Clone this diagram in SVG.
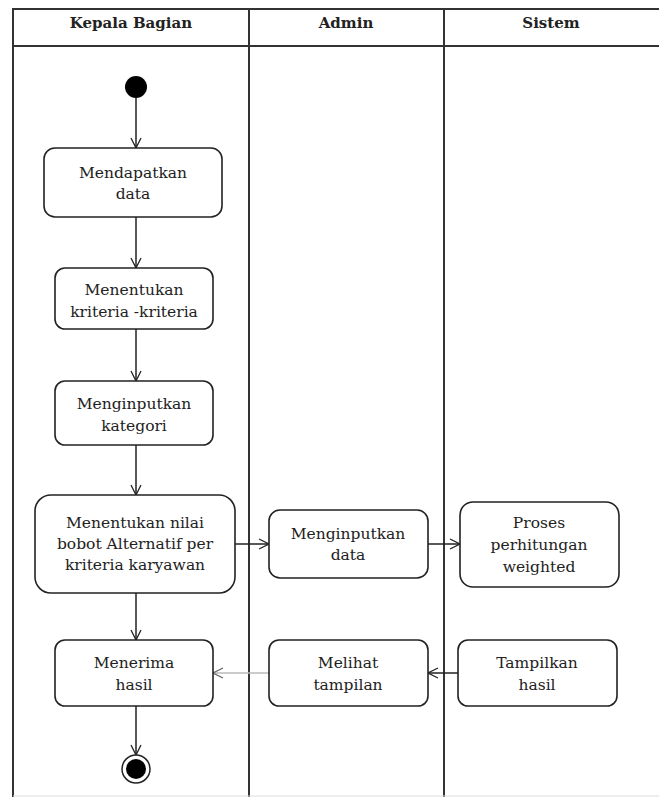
<svg xmlns="http://www.w3.org/2000/svg" width="659" height="797" viewBox="0 0 659 797">
<style>
.lane{stroke:#333;stroke-width:2;fill:none}
.node rect{fill:#fff;stroke:#222;stroke-width:1.6}
.node text{font-size:15.5px;fill:#222;text-anchor:middle}
.hdr{font-weight:bold;font-size:15px;fill:#222;text-anchor:middle}
.conn{stroke:#222;stroke-width:1.5;fill:none;marker-end:url(#arr)}
</style>
<defs>
<marker id="arr" viewBox="0 0 12 12" refX="11" refY="6" markerWidth="12" markerHeight="12" markerUnits="userSpaceOnUse" orient="auto">
<path d="M1,1 L11,6 L1,11" fill="none" stroke="#222" stroke-width="1.3"/>
</marker>
<marker id="arrg" viewBox="0 0 12 12" refX="11" refY="6" markerWidth="12" markerHeight="12" markerUnits="userSpaceOnUse" orient="auto">
<path d="M1,1 L11,6 L1,11" fill="none" stroke="#666" stroke-width="1.3"/>
</marker>
</defs>
<rect width="659" height="797" fill="#fff"/>
<g font-family="'DejaVu Serif', 'Liberation Serif', serif">
<g id="lanes">
<path class="lane" d="M13,797 L13,9 L659,9"/>
<path class="lane" d="M13,46 L659,46"/>
<path class="lane" d="M249,9 L249,797"/>
<path class="lane" d="M444,9 L444,797"/>
<path d="M13,796 L659,796" stroke="#ddd" stroke-width="1"/>
<text class="hdr" x="131" y="28">Kepala Bagian</text>
<text class="hdr" x="346" y="28">Admin</text>
<text class="hdr" x="551" y="28">Sistem</text>
</g>
<g id="connectors">
<path class="conn" d="M136,98 L136,148"/>
<path class="conn" d="M136,217 L136,268"/>
<path class="conn" d="M136,329 L136,381"/>
<path class="conn" d="M136,445 L136,495"/>
<path class="conn" d="M136,593 L136,640"/>
<path class="conn" d="M136,706 L136,755"/>
<path class="conn" d="M235,544 L269,544"/>
<path class="conn" d="M428,544 L460,544"/>
<path class="conn" d="M458,673 L428,673"/>
<path d="M269,673 L213,673" stroke="#bbb" stroke-width="1.5" fill="none" marker-end="url(#arrg)"/>
</g>
<g id="start"><circle cx="136" cy="87" r="11" fill="#000"/></g>
<g id="n1" class="node"><rect x="44" y="148" width="178" height="69" rx="11"/><text x="133" y="178">Mendapatkan</text><text x="133" y="199">data</text></g>
<g id="n2" class="node"><rect x="55" y="268" width="158" height="61" rx="10"/><text x="134" y="295">Menentukan</text><text x="134" y="317">kriteria -kriteria</text></g>
<g id="n3" class="node"><rect x="55" y="381" width="158" height="64" rx="10"/><text x="134" y="409">Menginputkan</text><text x="134" y="431">kategori</text></g>
<g id="n4" class="node"><rect x="35" y="495" width="200" height="98" rx="16"/><text x="135" y="528">Menentukan nilai</text><text x="135" y="549">bobot Alternatif per</text><text x="135" y="570">kriteria karyawan</text></g>
<g id="n5" class="node"><rect x="269" y="510" width="159" height="68" rx="11"/><text x="348" y="539">Menginputkan</text><text x="348" y="560">data</text></g>
<g id="n6" class="node"><rect x="460" y="502" width="159" height="85" rx="13"/><text x="539" y="528">Proses</text><text x="539" y="550">perhitungan</text><text x="539" y="572">weighted</text></g>
<g id="n7" class="node"><rect x="55" y="640" width="158" height="66" rx="10"/><text x="134" y="668">Menerima</text><text x="134" y="690">hasil</text></g>
<g id="n8" class="node"><rect x="269" y="640" width="159" height="66" rx="10"/><text x="348" y="668">Melihat</text><text x="348" y="690">tampilan</text></g>
<g id="n9" class="node"><rect x="458" y="640" width="159" height="66" rx="10"/><text x="537" y="668">Tampilkan</text><text x="537" y="690">hasil</text></g>
<g id="end"><circle cx="136" cy="769" r="14" fill="#fff" stroke="#222" stroke-width="1.5"/><circle cx="136" cy="769" r="10" fill="#000"/></g>
</g>
</svg>
